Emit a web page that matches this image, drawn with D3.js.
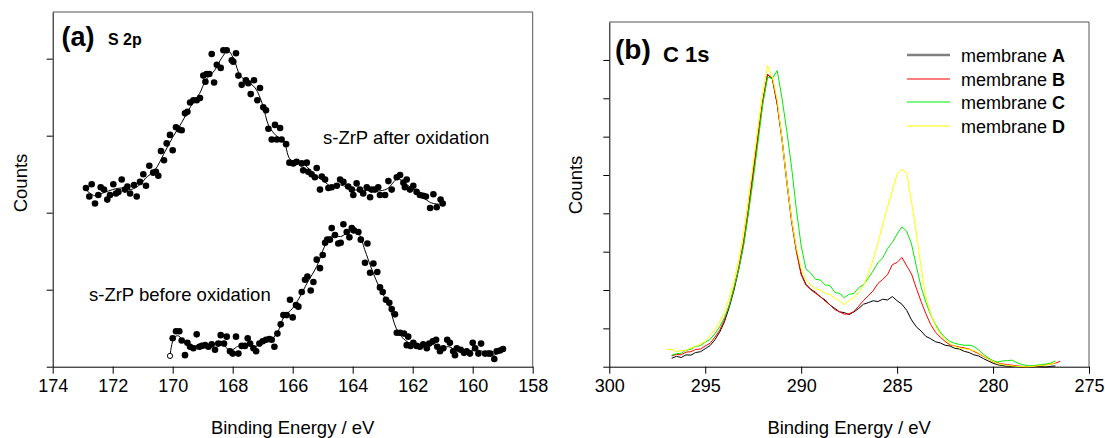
<!DOCTYPE html>
<html>
<head>
<meta charset="utf-8">
<script src="https://cdn.jsdelivr.net/npm/d3@7"></script>
<style>
  body { margin: 0; background: #fff; }
  svg { display: block; }
  text { font-family: "Liberation Sans", Arial, sans-serif; fill: #000; }
</style>
</head>
<body>
<svg id="chart" width="1105" height="438"></svg>
<script>
// ---- panel (a): S 2p, dots + smoothed line  [binding energy, counts]
var s2p_after_points = [
  [172.89,2.32],[172.78,2.21],[172.70,2.37],[172.59,2.12],[172.48,2.23],[172.40,2.33],[172.29,2.30],[172.18,2.17],
  [172.09,2.23],[171.98,2.37],[171.89,2.25],[171.81,2.27],[171.70,2.43],[171.59,2.30],[171.51,2.34],[171.42,2.25],
  [171.29,2.36],[171.20,2.21],[171.09,2.40],[170.98,2.50],[170.89,2.35],[170.78,2.61],[170.65,2.52],[170.56,2.53],
  [170.48,2.48],[170.39,2.80],[170.29,2.68],[170.20,2.90],[170.09,3.01],[170.00,2.81],[169.89,3.11],[169.78,3.08],
  [169.70,3.07],[169.59,3.29],[169.51,3.31],[169.42,3.43],[169.31,3.46],[169.20,3.46],[169.09,3.49],[168.98,3.78],
  [168.91,3.70],[168.87,3.80],[168.78,3.80],[168.70,4.06],[168.62,3.69],[168.53,3.92],[168.40,3.88],[168.31,4.11],
  [168.20,4.11],[168.03,3.98],[167.98,3.96],[167.89,4.07],[167.81,3.78],[167.70,3.66],[167.56,3.72],[167.48,3.68],
  [167.40,3.54],[167.29,3.72],[167.18,3.46],[167.09,3.62],[166.98,3.37],[166.89,3.33],[166.81,3.09],[166.70,2.95],
  [166.59,3.14],[166.53,2.95],[166.42,3.10],[166.37,2.95],[166.22,2.89],[166.11,2.65],[165.98,2.64],[165.87,2.66],
  [165.70,2.64],[165.65,2.55],[165.53,2.65],[165.48,2.53],[165.37,2.50],[165.26,2.46],[165.20,2.58],[165.09,2.30],
  [165.03,2.47],[164.92,2.43],[164.81,2.32],[164.70,2.33],[164.53,2.35],[164.42,2.43],[164.31,2.40],[164.15,2.34],
  [164.03,2.30],[163.98,2.23],[163.87,2.38],[163.76,2.30],[163.65,2.25],[163.53,2.33],[163.42,2.20],[163.37,2.30],
  [163.26,2.30],[163.15,2.33],[163.09,2.23],[162.92,2.23],[162.81,2.41],[162.70,2.30],[162.53,2.46],[162.42,2.49],
  [162.31,2.39],[162.26,2.33],[162.20,2.43],[162.09,2.30],[161.98,2.35],[161.87,2.27],[161.76,2.23],[161.65,2.22],
  [161.56,2.21],[161.42,2.06],[161.31,2.24],[161.20,2.07],[161.07,2.17],[161.00,2.12]
]
var s2p_after_fit = [
  [172.9,2.30],[172.6,2.22],[172.3,2.26],[172.0,2.30],[171.7,2.32],[171.4,2.30],[171.1,2.36],[170.9,2.45],
  [170.6,2.55],[170.3,2.76],[170.0,2.98],[169.7,3.17],[169.4,3.38],[169.1,3.55],[168.9,3.72],[168.6,3.85],
  [168.35,4.02],[168.15,4.10],[167.95,3.98],[167.75,3.78],[167.5,3.70],[167.25,3.62],[167.0,3.40],[166.8,3.13],
  [166.55,3.00],[166.3,2.93],[166.1,2.70],[165.85,2.64],[165.6,2.62],[165.3,2.50],[165.0,2.42],[164.7,2.34],
  [164.4,2.36],[164.0,2.30],[163.6,2.29],[163.2,2.28],[162.85,2.31],[162.5,2.44],[162.25,2.38],[162.0,2.31],
  [161.7,2.22],[161.4,2.13],[161.1,2.11]
]
var s2p_before_points = [
  [170.00,0.37],[169.89,0.46],[169.78,0.46],[169.70,0.34],[169.59,0.15],[169.51,0.31],[169.42,0.26],[169.31,0.24],
  [169.20,0.42],[169.11,0.26],[169.03,0.27],[168.92,0.28],[168.81,0.26],[168.70,0.29],[168.59,0.22],[168.48,0.30],
  [168.40,0.41],[168.29,0.30],[168.20,0.39],[168.09,0.20],[168.00,0.17],[167.89,0.39],[167.81,0.17],[167.70,0.27],
  [167.59,0.27],[167.50,0.37],[167.42,0.30],[167.31,0.24],[167.22,0.20],[167.11,0.30],[167.00,0.33],[166.89,0.35],
  [166.78,0.36],[166.70,0.35],[166.61,0.26],[166.51,0.43],[166.40,0.55],[166.31,0.67],[166.20,0.67],[166.09,0.87],
  [166.00,0.64],[165.89,0.80],[165.81,0.78],[165.70,0.97],[165.59,1.13],[165.51,1.17],[165.40,0.99],[165.31,1.10],
  [165.20,1.39],[165.09,1.28],[165.00,1.45],[164.92,1.61],[164.85,1.65],[164.76,1.65],[164.70,1.80],[164.59,1.71],
  [164.48,1.60],[164.40,1.61],[164.31,1.85],[164.20,1.75],[164.11,1.68],[164.03,1.80],[163.96,1.77],[163.81,1.75],
  [163.73,1.65],[163.59,1.35],[163.51,1.60],[163.42,1.22],[163.31,1.34],[163.18,1.23],[163.09,1.03],[163.00,0.97],
  [162.89,0.87],[162.78,0.83],[162.70,0.75],[162.59,0.68],[162.53,0.44],[162.42,0.44],[162.29,0.43],[162.20,0.28],
  [162.15,0.39],[162.07,0.27],[161.98,0.31],[161.87,0.27],[161.76,0.26],[161.65,0.29],[161.53,0.24],[161.45,0.30],
  [161.33,0.33],[161.22,0.35],[161.18,0.26],[161.09,0.20],[160.98,0.24],[160.85,0.35],[160.76,0.31],[160.65,0.20],
  [160.59,0.15],[160.53,0.24],[160.40,0.22],[160.29,0.18],[160.20,0.20],[160.09,0.17],[160.00,0.31],[159.92,0.24],
  [159.81,0.17],[159.72,0.30],[159.59,0.17],[159.48,0.17],[159.41,0.17],[159.28,0.10],[159.20,0.20],[159.09,0.21],
  [158.99,0.23]
]
var s2p_before_open = [[170.09,0.14]]
var s2p_before_fit = [
  [170.09,0.14],[169.95,0.38],[169.8,0.40],[169.6,0.30],[169.3,0.27],[169.0,0.28],[168.7,0.28],[168.4,0.33],
  [168.1,0.21],[167.8,0.27],[167.5,0.30],[167.25,0.26],[167.0,0.32],[166.7,0.36],[166.5,0.45],[166.3,0.64],
  [166.0,0.76],[165.8,0.88],[165.5,1.10],[165.2,1.30],[164.95,1.55],[164.7,1.70],[164.4,1.69],[164.1,1.75],
  [163.8,1.72],[163.6,1.52],[163.35,1.25],[163.1,1.02],[162.8,0.80],[162.55,0.50],[162.3,0.36],[162.0,0.29],
  [161.7,0.27],[161.4,0.30],[161.1,0.24],[160.8,0.26],[160.5,0.20],[160.2,0.20],[159.9,0.22],[159.6,0.19],
  [159.3,0.15],[159.0,0.21]
]
var s2p_major_ticks = [174, 172, 170, 168, 166, 164, 162, 160, 158]
var s2p_minor_ticks = [173, 171, 169, 167, 165, 163, 161, 159]
var s2p_y_ticks = [0, 1, 2, 3, 4]

// ---- panel (b): C 1s spectra
var c1s_energy = [
  297.0,296.75,296.5,296.25,296.0,295.75,295.5,295.25,295.0,294.75,294.5,294.25,294.0,293.75,293.5,293.25,
  293.0,292.75,292.5,292.25,292.0,291.75,291.5,291.25,291.0,290.75,290.5,290.25,290.0,289.75,289.5,289.25,
  289.0,288.75,288.5,288.25,288.0,287.75,287.5,287.25,287.0,286.75,286.5,286.25,286.0,285.75,285.5,285.25,
  285.0,284.75,284.5,284.25,284.0,283.75,283.5,283.25,283.0,282.75,282.5,282.25,282.0,281.75,281.5,281.25,
  281.0,280.75,280.5,280.25,280.0,279.75,279.5,279.25,279.0,278.75,278.5,278.25,278.0,277.75,277.5,277.25,
  277.0,276.75,276.5
]
var c1s_A = [
  null,0.22,0.27,0.24,0.31,0.30,0.37,0.39,0.47,0.55,0.70,0.90,1.17,1.55,2.00,2.55,
  3.20,4.05,5.05,6.00,6.90,7.62,7.50,6.85,5.95,4.85,3.83,3.05,2.42,2.15,2.02,1.94,
  1.82,1.74,1.61,1.52,1.43,1.41,1.36,1.43,1.52,1.63,1.67,1.72,1.70,1.76,1.74,1.83,
  1.72,1.63,1.47,1.22,1.04,0.93,0.79,0.73,0.65,0.62,0.56,0.54,0.48,0.46,0.40,0.37,
  0.31,0.28,0.21,0.15,0.09,0.05,0.03,0.01,0.00,0.01,-0.01,0.00,-0.01,0.01,0.00,-0.01,
  0.01,0.02,null
]
var c1s_B = [
  null,0.28,0.32,0.31,0.38,0.39,0.45,0.46,0.54,0.61,0.77,0.95,1.22,1.60,2.05,2.60,
  3.27,4.12,5.10,6.05,6.95,7.62,7.52,6.85,5.92,4.80,3.78,3.00,2.40,2.12,2.01,1.91,
  1.83,1.71,1.61,1.49,1.43,1.37,1.38,1.44,1.58,1.73,1.85,1.98,2.17,2.28,2.40,2.66,
  2.72,2.85,2.63,2.42,2.05,1.70,1.38,1.10,0.90,0.77,0.66,0.57,0.54,0.51,0.49,0.46,
  0.40,0.34,0.27,0.20,0.13,0.10,0.07,0.05,0.04,0.02,0.01,0.00,0.01,0.02,0.03,0.05,
  0.07,0.09,0.14
]
var c1s_C = [
  null,0.30,0.34,0.35,0.43,0.45,0.53,0.55,0.64,0.71,0.86,1.04,1.28,1.60,2.07,2.55,
  3.15,4.00,4.87,5.85,6.85,7.55,7.52,7.72,7.00,6.15,5.20,4.10,3.15,2.55,2.44,2.28,
  2.26,2.13,2.12,1.94,1.91,1.80,1.89,1.91,2.06,2.14,2.31,2.50,2.71,2.84,3.08,3.24,
  3.46,3.65,3.53,3.20,2.62,2.08,1.68,1.35,1.10,0.90,0.76,0.66,0.61,0.58,0.56,0.56,
  0.53,0.44,0.32,0.23,0.16,0.12,0.15,0.16,0.17,0.10,0.06,0.03,0.02,0.04,0.05,0.07,
  0.09,0.15,null
]
var c1s_D = [
  0.46,0.45,0.40,0.42,0.43,0.49,0.52,0.59,0.65,0.81,0.97,1.16,1.42,1.80,2.25,2.80,
  3.50,4.40,5.30,6.25,7.20,7.85,7.55,6.95,5.95,4.85,3.85,3.10,2.55,2.26,2.13,2.03,
  2.00,1.92,1.88,1.79,1.71,1.61,1.73,1.81,1.94,2.11,2.43,2.79,3.21,3.71,4.16,4.59,
  5.02,5.15,5.05,4.30,3.50,2.60,1.80,1.38,1.05,0.86,0.71,0.60,0.53,0.49,0.47,0.45,
  0.42,0.36,0.28,0.20,0.14,0.08,0.06,0.03,0.02,0.01,0.00,0.00,0.00,0.02,0.03,0.04,
  0.07,0.10,null
]
var c1s_names = ["A", "B", "C", "D"]
var c1s_colors = ["#000000", "#ff0000", "#00ee00", "#ffff00"]
var c1s_major_ticks = [300, 295, 290, 285, 280, 275]
var c1s_minor_ticks = [299,298,297,296,294,293,292,291,289,288,287,286,284,283,282,281,279,278,277,276]
var c1s_y_ticks = [0, 1, 2, 3, 4, 5, 6, 7, 8]

var svg = d3.select("#chart")

var panel_a = {left: 52.7, right: 532.7, top: 12, bottom: 366.7}
var panel_b = {left: 609.3, right: 1089, top: 22, bottom: 366.7}

var xa = d3.scaleLinear().domain([174, 158]).range([panel_a.left, panel_a.right])
var ya = d3.scaleLinear().domain([0, 4.606]).range([panel_a.bottom, panel_a.top])
var xb = d3.scaleLinear().domain([300, 275]).range([panel_b.left, panel_b.right])
var yb = d3.scaleLinear().domain([0, 8.99]).range([panel_b.bottom, panel_b.top])

var draw_frame = (p, x, y, major, minor, yticks) => {
    // top and right borders
    svg.append("path")
        .attr("d", `M${p.left},${p.top}H${p.right}V${p.bottom}`)
        .attr("fill", "none").attr("stroke", "#555").attr("stroke-width", 1)

    var gx = svg.append("g").attr("transform", `translate(0,${p.bottom})`)
    gx.call(d3.axisBottom(x).tickValues(minor).tickSize(4).tickSizeOuter(0).tickFormat(""))
    gx.call(d3.axisBottom(x).tickValues(major).tickSize(7).tickSizeOuter(0).tickPadding(6))
    gx.selectAll("text").attr("font-size", 18).attr("font-family", '"Liberation Sans", Arial, sans-serif')
    gx.selectAll("line,path").attr("stroke", "#000")

    var gy = svg.append("g").attr("transform", `translate(${p.left},0)`)
    gy.call(d3.axisLeft(y).tickValues(yticks).tickSize(6).tickSizeOuter(0).tickFormat(""))
    gy.selectAll("line,path").attr("stroke", "#000")
}

draw_frame(panel_a, xa, ya, s2p_major_ticks, s2p_minor_ticks, s2p_y_ticks)
draw_frame(panel_b, xb, yb, c1s_major_ticks, c1s_minor_ticks, c1s_y_ticks)

// ---- panel (a) marks
var fit_line = d3.line().x(d => xa(d[0])).y(d => ya(d[1])).curve(d3.curveCatmullRom)

;[s2p_after_fit, s2p_before_fit].forEach(f => {
    svg.append("path").datum(f)
        .attr("d", fit_line)
        .attr("fill", "none").attr("stroke", "#000").attr("stroke-width", 1)
})

svg.append("g").selectAll("circle")
    .data(s2p_after_points.concat(s2p_before_points)).enter()
    .append("circle")
    .attr("cx", d => xa(d[0])).attr("cy", d => ya(d[1]))
    .attr("r", 3.3).attr("fill", "#000")

svg.append("g").selectAll("circle")
    .data(s2p_before_open).enter()
    .append("circle")
    .attr("cx", d => xa(d[0])).attr("cy", d => ya(d[1]))
    .attr("r", 2.6).attr("fill", "#fff").attr("stroke", "#000").attr("stroke-width", 1)

svg.append("text").attr("x", 61.5).attr("y", 46)
    .attr("font-size", 27).attr("font-weight", "bold").text("(a)")
svg.append("text").attr("x", 108).attr("y", 45)
    .attr("font-size", 16).attr("font-weight", "bold").text("S 2p")
svg.append("text").attr("x", 323).attr("y", 144)
    .attr("font-size", 18.5).text("s-ZrP after oxidation")
svg.append("text").attr("x", 89).attr("y", 300.5)
    .attr("font-size", 18.5).text("s-ZrP before oxidation")

// ---- panel (b) marks
var series = [c1s_A, c1s_B, c1s_C, c1s_D]
var spec_line = (vals) => d3.line()
    .defined((d, i) => vals[i] !== null)
    .x((d, i) => xb(c1s_energy[i]))
    .y((d, i) => yb(vals[i]))

series.forEach((vals, k) => {
    svg.append("path").datum(vals)
        .attr("d", spec_line(vals))
        .attr("fill", "none").attr("stroke", c1s_colors[k]).attr("stroke-width", 1)
})

svg.append("text").attr("x", 615).attr("y", 59)
    .attr("font-size", 28).attr("font-weight", "bold").text("(b)")
svg.append("text").attr("x", 663).attr("y", 61.5)
    .attr("font-size", 22).attr("font-weight", "bold").text("C 1s")

// legend
var legend_y = [55, 79, 102, 126]
var legend = svg.append("g").selectAll("g")
    .data(c1s_names).enter()
    .append("g").attr("transform", (d, i) => `translate(0,${legend_y[i]})`)

legend.append("line")
    .attr("x1", 907).attr("x2", 950).attr("y1", 0).attr("y2", 0)
    .attr("stroke", (d, i) => i == 0 ? "#808080" : c1s_colors[i])
    .attr("stroke-width", (d, i) => i == 0 ? 2.5 : 1.2)

var legend_text = legend.append("text").attr("x", 961).attr("y", 6.5).attr("font-size", 18)
legend_text.append("tspan").text("membrane ")
legend_text.append("tspan").attr("font-weight", "bold").text(d => d)

// axis titles
svg.append("text").attr("x", (panel_a.left + panel_a.right) / 2).attr("y", 434)
    .attr("text-anchor", "middle").attr("font-size", 18.5).text("Binding Energy / eV")
svg.append("text").attr("x", (panel_b.left + panel_b.right) / 2).attr("y", 434)
    .attr("text-anchor", "middle").attr("font-size", 18.5).text("Binding Energy / eV")
svg.append("text").attr("transform", "translate(26.5,183) rotate(-90)")
    .attr("text-anchor", "middle").attr("font-size", 18.5).text("Counts")
svg.append("text").attr("transform", "translate(581.5,185) rotate(-90)")
    .attr("text-anchor", "middle").attr("font-size", 18.5).text("Counts")
</script>
</body>
</html>
